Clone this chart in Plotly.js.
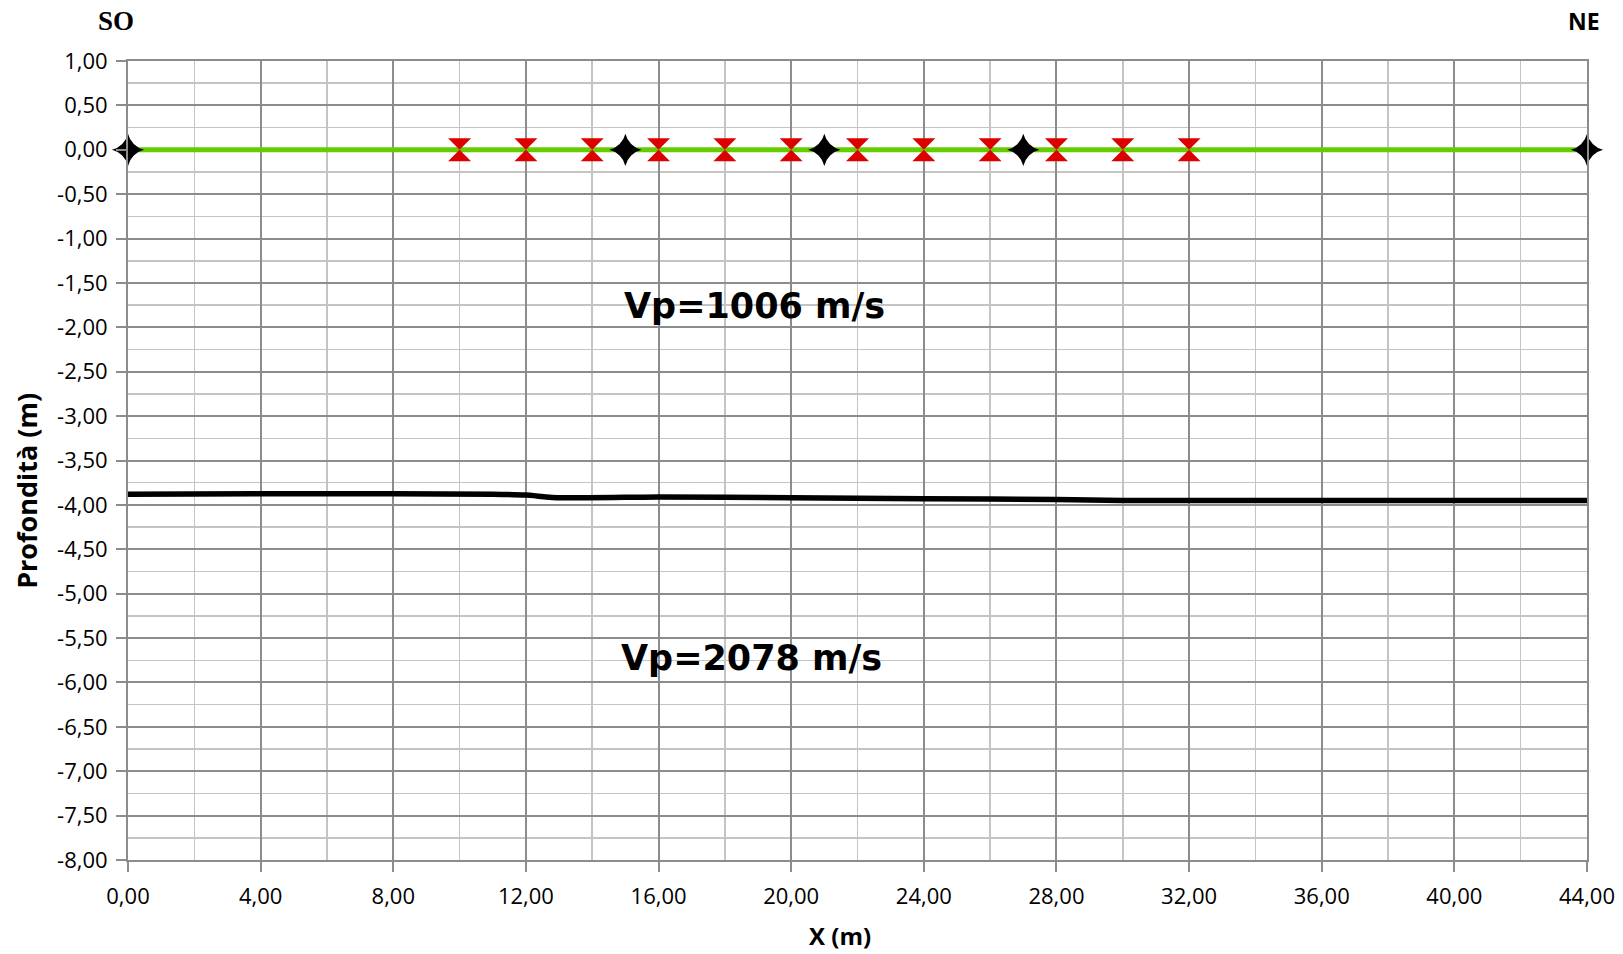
<!DOCTYPE html>
<html>
<head>
<meta charset="utf-8">
<script src="https://cdn.plot.ly/plotly-3.0.1.min.js"></script>
<style>html,body{margin:0;padding:0;background:#fff;}#chart{width:1623px;height:954px;}</style>
</head>
<body>
<div id="chart"></div>
<script>
// Topography / surface line
const surfaceX = [0, 44];
const surfaceY = [0, 0];
// Geophones (red hourglass)
const geophoneX = [10, 12, 14, 16, 18, 20, 22, 24, 26, 28, 30, 32];
const geophoneY = [0, 0, 0, 0, 0, 0, 0, 0, 0, 0, 0, 0];
// Shot points (black stars)
const shotX = [0, 15, 21, 27, 44];
const shotY = [0, 0, 0, 0, 0];
// Refractor interface
const refractorX = [0, 4, 8, 11, 12, 13, 16, 20, 24, 28, 30, 36, 44];
const refractorY = [-3.88, -3.875, -3.875, -3.88, -3.89, -3.92, -3.91, -3.92, -3.93, -3.94, -3.95, -3.95, -3.95];
// Layer labels
const layerLabels = ['Vp=1006 m/s', 'Vp=2078 m/s'];
const layerLabelX = [18.9, 18.8];
const layerLabelY = [-1.76, -5.72];
// Tick labels (comma decimal, hyphen minus)
const xTickVals = [0, 4, 8, 12, 16, 20, 24, 28, 32, 36, 40, 44];
const xTickText = ['0,00', '4,00', '8,00', '12,00', '16,00', '20,00', '24,00', '28,00', '32,00', '36,00', '40,00', '44,00'];
const yTickVals = [1, 0.5, 0, -0.5, -1, -1.5, -2, -2.5, -3, -3.5, -4, -4.5, -5, -5.5, -6, -6.5, -7, -7.5, -8];
const yTickText = ['1,00', '0,50', '0,00', '-0,50', '-1,00', '-1,50', '-2,00', '-2,50', '-3,00', '-3,50', '-4,00', '-4,50', '-5,00', '-5,50', '-6,00', '-6,50', '-7,00', '-7,50', '-8,00'];

const traces = [
  {x: refractorX, y: refractorY, mode: 'lines', line: {color: '#000000', width: 5.5, shape: 'spline', smoothing: 0.4}, hoverinfo: 'skip'},
  {x: surfaceX, y: surfaceY, mode: 'lines', line: {color: '#66cc00', width: 5}, hoverinfo: 'skip'},
  {x: geophoneX, y: geophoneY, mode: 'markers', marker: {symbol: 'hourglass', size: 23, color: '#dd0000', line: {width: 0}}, cliponaxis: false},
  {x: shotX, y: shotY, mode: 'markers', marker: {symbol: 'star-diamond', size: 23, color: '#000000', line: {width: 0}}, cliponaxis: false}
];

const annotations = [
  {text: '<b>SO</b>', xref: 'paper', yref: 'paper', x: -0.008, y: 1.0, yshift: 40, xanchor: 'center', yanchor: 'middle', showarrow: false, font: {family: 'Liberation Serif, serif', size: 27, color: '#000'}},
  {text: '<b>NE</b>', xref: 'paper', yref: 'paper', x: 0.998, y: 1.0, yshift: 40, xanchor: 'center', yanchor: 'middle', showarrow: false, font: {family: 'Open Sans', size: 23, color: '#000'}},
  {text: '<b>Profondità (m)</b>', xref: 'paper', yref: 'paper', x: 0, xshift: -101, y: 0.462, xanchor: 'center', yanchor: 'middle', textangle: -90, showarrow: false, font: {family: 'Open Sans', size: 27, color: '#000'}},
  {text: '<b>X (m)</b>', xref: 'paper', yref: 'paper', x: 0.488, y: 0, yshift: -75, xanchor: 'center', yanchor: 'middle', borderpad: 0, showarrow: false, font: {family: 'Open Sans', size: 24, color: '#000'}}
];
for (let i = 0; i < layerLabels.length; i++) {
  annotations.push({text: '<b>' + layerLabels[i] + '</b>', x: layerLabelX[i], y: layerLabelY[i], xref: 'x', yref: 'y', showarrow: false, xanchor: 'center', yanchor: 'middle', font: {family: 'DejaVu Sans', size: 35, color: '#000'}});
}

const layout = {
  width: 1623, height: 954,
  margin: {l: 128, r: 36, t: 61, b: 94},
  paper_bgcolor: '#fff', plot_bgcolor: '#fff',
  showlegend: false,
  font: {family: 'Open Sans', color: '#000'},
  xaxis: {
    range: [0, 44], tickmode: 'array', tickvals: xTickVals, ticktext: xTickText,
    showgrid: true, gridcolor: '#8c8c8c', gridwidth: 2,
    minor: {dtick: 2, tick0: 0, showgrid: true, gridcolor: '#c4c4c4', gridwidth: 1.5},
    showline: true, linecolor: '#8c8c8c', linewidth: 2, mirror: true,
    ticks: 'outside', ticklen: 10, tickwidth: 2, tickcolor: '#8c8c8c',
    ticklabelstandoff: 6,
    tickfont: {size: 22, family: 'Open Sans', color: '#000'},
    zeroline: false
  },
  yaxis: {
    range: [-8, 1], tickmode: 'array', tickvals: yTickVals, ticktext: yTickText,
    showgrid: true, gridcolor: '#8c8c8c', gridwidth: 2,
    minor: {dtick: 0.25, tick0: 0, showgrid: true, gridcolor: '#c4c4c4', gridwidth: 1.5},
    showline: true, linecolor: '#8c8c8c', linewidth: 2, mirror: true,
    ticks: 'outside', ticklen: 10, tickwidth: 2, tickcolor: '#8c8c8c',
    ticklabelstandoff: 4,
    tickfont: {size: 22, family: 'Open Sans', color: '#000'},
    zeroline: false
  },
  annotations: annotations
};

Plotly.newPlot('chart', traces, layout, {displayModeBar: false, staticPlot: true});
</script>
</body>
</html>
